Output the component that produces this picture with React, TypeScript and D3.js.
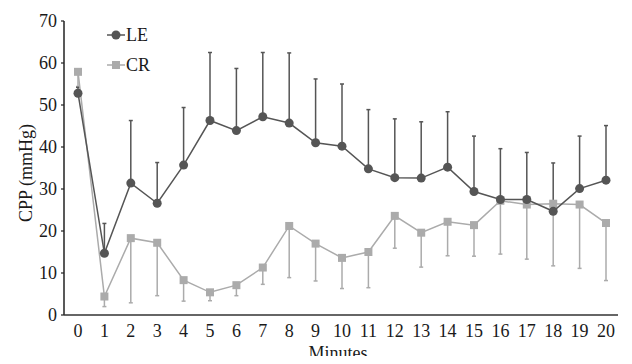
import React, { useRef, useEffect } from "react";
import * as d3 from "d3";

// minutes 0..20
const minutes = d3.range(0, 21);

// LE group: mean and upper error (mean + SD)
const leMean = [52.8, 14.7, 31.4, 26.6, 35.7, 46.3, 43.9, 47.2, 45.7, 41.0, 40.2, 34.8, 32.7, 32.6, 35.2, 29.4, 27.5, 27.5, 24.7, 30.1, 32.1];
const leUpper = [54.2, 21.8, 46.3, 36.3, 49.4, 62.5, 58.7, 62.5, 62.4, 56.2, 55.0, 48.9, 46.7, 46.0, 48.4, 42.6, 39.6, 38.7, 36.2, 42.6, 45.1];

// CR group: mean and lower error (mean - SD)
const crMean = [57.9, 4.4, 18.3, 17.2, 8.3, 5.4, 7.1, 11.3, 21.2, 17.0, 13.6, 15.0, 23.6, 19.6, 22.2, 21.4, 27.2, 26.3, 26.5, 26.3, 21.9];
const crLower = [54.4, 2.0, 2.9, 4.6, 3.3, 3.4, 4.6, 7.3, 8.9, 8.1, 6.3, 6.5, 15.9, 11.4, 14.1, 14.0, 14.5, 13.3, 11.7, 11.1, 8.2];

const yTicks = [0, 10, 20, 30, 40, 50, 60, 70];

const W = 632;
const H = 364;
const FONT = "'Liberation Serif', 'DejaVu Serif', serif";
const LE_COLOR = "#555555";
const CR_COLOR = "#ababab";

const Chart: React.FC = () => {
  const svgRef = useRef<SVGSVGElement>(null);

  useEffect(() => {
    if (!svgRef.current) return;
    const svg = d3.select(svgRef.current);
    svg.selectAll("*").remove();

    const x = d3.scaleLinear().domain([0, 20]).range([78, 606]);
    const y = d3.scaleLinear().domain([0, 70]).range([315, 21]);

    // y axis
    svg.append("line")
      .attr("x1", 64).attr("x2", 64)
      .attr("y1", y(70)).attr("y2", y(0))
      .attr("stroke", "#222").attr("stroke-width", 1.5);
    yTicks.forEach((t) => {
      svg.append("line")
        .attr("x1", 61).attr("x2", 64)
        .attr("y1", y(t)).attr("y2", y(t))
        .attr("stroke", "#222").attr("stroke-width", 1.2);
      svg.append("text")
        .attr("x", 57).attr("y", y(t))
        .attr("dy", "0.35em")
        .attr("text-anchor", "end")
        .attr("font-family", FONT).attr("font-size", 18)
        .attr("fill", "#1a1a1a")
        .text(t);
    });

    // x axis
    svg.append("line")
      .attr("x1", 64).attr("x2", 618)
      .attr("y1", y(0)).attr("y2", y(0))
      .attr("stroke", "#333").attr("stroke-width", 1.5);
    minutes.forEach((m) => {
      svg.append("text")
        .attr("x", x(m)).attr("y", 337)
        .attr("text-anchor", "middle")
        .attr("font-family", FONT).attr("font-size", 18)
        .attr("fill", "#1a1a1a")
        .text(m);
    });

    svg.append("text")
      .attr("x", 338).attr("y", 359)
      .attr("text-anchor", "middle")
      .attr("font-family", FONT).attr("font-size", 18)
      .attr("fill", "#1a1a1a")
      .text("Minutes");

    svg.append("text")
      .attr("transform", "translate(32,173) rotate(-90)")
      .attr("text-anchor", "middle")
      .attr("font-family", FONT).attr("font-size", 18)
      .attr("fill", "#1a1a1a")
      .text("CPP (mmHg)");

    // CR error bars (down)
    minutes.forEach((m, i) => {
      const g = svg.append("g").attr("stroke", CR_COLOR).attr("stroke-width", 1.5);
      g.append("line").attr("x1", x(m)).attr("x2", x(m)).attr("y1", y(crMean[i])).attr("y2", y(crLower[i]));
      g.append("line").attr("x1", x(m) - 2).attr("x2", x(m) + 2).attr("y1", y(crLower[i])).attr("y2", y(crLower[i]));
    });

    // LE error bars (up)
    minutes.forEach((m, i) => {
      const g = svg.append("g").attr("stroke", LE_COLOR).attr("stroke-width", 1.5);
      g.append("line").attr("x1", x(m)).attr("x2", x(m)).attr("y1", y(leMean[i])).attr("y2", y(leUpper[i]));
      g.append("line").attr("x1", x(m) - 2).attr("x2", x(m) + 2).attr("y1", y(leUpper[i])).attr("y2", y(leUpper[i]));
    });

    const line = d3.line<number>().x((_, i) => x(minutes[i])).y((d) => y(d));

    svg.append("path").datum(crMean)
      .attr("fill", "none").attr("stroke", CR_COLOR).attr("stroke-width", 1.5)
      .attr("d", line);
    svg.selectAll(".cr").data(crMean).enter().append("rect")
      .attr("x", (_, i) => x(minutes[i]) - 4)
      .attr("y", (d) => y(d) - 4)
      .attr("width", 8).attr("height", 8)
      .attr("fill", CR_COLOR);

    svg.append("path").datum(leMean)
      .attr("fill", "none").attr("stroke", LE_COLOR).attr("stroke-width", 1.5)
      .attr("d", line);
    svg.selectAll(".le").data(leMean).enter().append("circle")
      .attr("cx", (_, i) => x(minutes[i]))
      .attr("cy", (d) => y(d))
      .attr("r", 4.5)
      .attr("fill", LE_COLOR);

    // legend
    const legend = [
      { name: "LE", color: LE_COLOR, shape: "circle", cy: 35 },
      { name: "CR", color: CR_COLOR, shape: "square", cy: 65 },
    ];
    legend.forEach((l) => {
      svg.append("line")
        .attr("x1", 107).attr("x2", 125)
        .attr("y1", l.cy).attr("y2", l.cy)
        .attr("stroke", l.color).attr("stroke-width", 1.5);
      if (l.shape === "circle") {
        svg.append("circle").attr("cx", 116).attr("cy", l.cy).attr("r", 4.5).attr("fill", l.color);
      } else {
        svg.append("rect").attr("x", 112).attr("y", l.cy - 4).attr("width", 8).attr("height", 8).attr("fill", l.color);
      }
      svg.append("text")
        .attr("x", 126).attr("y", l.cy)
        .attr("dy", "0.35em")
        .attr("font-family", FONT).attr("font-size", 18)
        .attr("fill", "#1a1a1a")
        .text(l.name);
    });
  }, []);

  return <svg ref={svgRef} width={W} height={H} style={{ display: "block" }}></svg>;
};

export default function App() {
  return (
    <div style={{ margin: -8 }}>
      <Chart />
    </div>
  );
}
